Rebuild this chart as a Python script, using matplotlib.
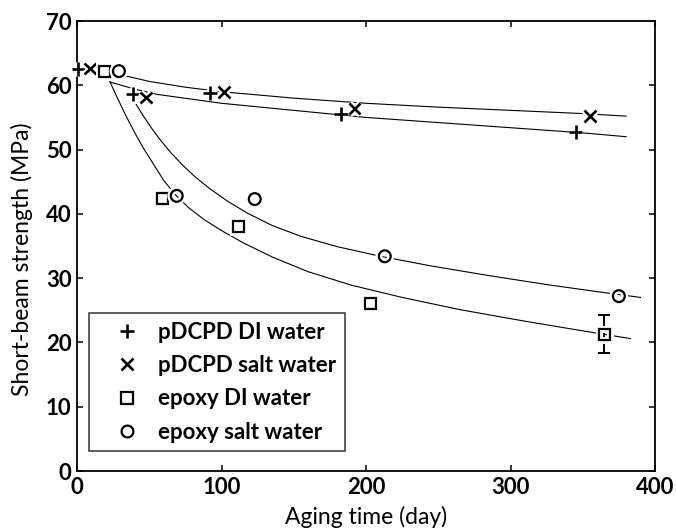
import matplotlib
matplotlib.use("Agg")
import matplotlib.pyplot as plt
import matplotlib.patheffects as pe

plt.rcParams['font.family'] = ['Lato', 'DejaVu Sans']
plt.rcParams['font.weight'] = 'bold'

# Measured short-beam strength (MPa) vs. aging time (day)
pdcpd_di_days = [1, 39, 92, 183, 345]
pdcpd_di_mpa = [62.6, 58.6, 58.8, 55.6, 52.8]

pdcpd_salt_days = [9, 48, 102, 192, 355]
pdcpd_salt_mpa = [62.6, 58.1, 59.0, 56.4, 55.2]

epoxy_di_days = [19, 59, 112, 203, 365]
epoxy_di_mpa = [62.2, 42.4, 38.1, 26.1, 21.3]
epoxy_di_err = [0, 0, 0, 0, 2.9]

epoxy_salt_days = [29, 69, 123, 213, 375]
epoxy_salt_mpa = [62.2, 42.8, 42.3, 33.4, 27.2]

# Fitted degradation curves
fit_pdcpd_di_days = [23, 40, 55, 100, 150, 200, 250, 300, 350, 380]
fit_pdcpd_di_mpa = [60.5, 59.4, 58.6, 57.2, 56.1, 55.0, 54.2, 53.4, 52.6, 52.0]

fit_pdcpd_salt_days = [33, 50, 75, 100, 150, 200, 250, 300, 350, 380]
fit_pdcpd_salt_mpa = [61.5, 60.6, 59.7, 59.0, 58.0, 57.2, 56.6, 56.1, 55.6, 55.2]

fit_epoxy_di_days = [22.7, 28, 34, 40, 46, 53, 60, 68, 77, 88, 100, 115, 135,
                     160, 190, 225, 265, 310, 350, 383]
fit_epoxy_di_mpa = [60.6, 58.0, 55.2, 52.6, 50.2, 47.7, 45.2, 43.0, 41.0, 39.1, 37.4,
                    35.5, 33.3, 31.0, 28.9, 27.0, 25.1, 23.3, 21.8, 20.6]

fit_epoxy_salt_days = [41, 46, 52, 58, 65, 73, 82, 92, 104, 118, 135, 155, 180,
                       210, 245, 285, 325, 360, 390]
fit_epoxy_salt_mpa = [57.0, 55.2, 53.2, 51.4, 49.5, 47.6, 45.7, 43.9, 42.0, 40.1, 38.2,
                      36.5, 34.9, 33.4, 31.9, 30.4, 29.0, 27.9, 27.0]

labels = ["pDCPD DI water", "pDCPD salt water", "epoxy DI water", "epoxy salt water"]

fig = plt.figure(figsize=(6.76, 5.30), dpi=100)
ax = fig.add_axes([77 / 676, 59 / 530, 578 / 676, 450 / 530])

for d, v in [(fit_pdcpd_di_days, fit_pdcpd_di_mpa),
             (fit_pdcpd_salt_days, fit_pdcpd_salt_mpa),
             (fit_epoxy_di_days, fit_epoxy_di_mpa),
             (fit_epoxy_salt_days, fit_epoxy_salt_mpa)]:
    ax.plot(d, v, color='black', lw=0.8, zorder=1)

halo = [pe.Stroke(linewidth=5, foreground='white'), pe.Normal()]
mk = dict(linestyle='none', color='black', markerfacecolor='none', zorder=3,
          path_effects=halo, clip_on=False)

h1, = ax.plot(pdcpd_di_days, pdcpd_di_mpa, marker='+', ms=10, mew=1.9, **mk)
h2, = ax.plot(pdcpd_salt_days, pdcpd_salt_mpa, marker='x', ms=8.5, mew=1.9, **mk)
h3, = ax.plot(epoxy_di_days, epoxy_di_mpa, marker='s', ms=8, mew=1.6, **mk)
h4, = ax.plot(epoxy_salt_days, epoxy_salt_mpa, marker='o', ms=8.5, mew=1.6, **mk)

# error bar on the last epoxy DI point
ax.errorbar(epoxy_di_days[-1:], epoxy_di_mpa[-1:], yerr=epoxy_di_err[-1:],
            fmt='none', ecolor='black', elinewidth=1.4, capsize=4, capthick=1.4, zorder=2)

ax.set_xlim(0, 400)
ax.set_ylim(0, 70)
ax.set_xticks([0, 100, 200, 300, 400])
ax.set_yticks(range(0, 71, 10))
ax.tick_params(direction='in', length=4, width=1.1, top=True, right=True,
               labelsize=16, pad=4)
for s in ax.spines.values():
    s.set_linewidth(1.3)

ax.set_xlabel("Aging time (day)", fontsize=16.5, va='top')
ax.xaxis.set_label_coords(0.5, (471 - 506) / 450)
ax.set_ylabel("Short-beam strength (MPa)", fontsize=16.5, va='bottom')
ax.yaxis.set_label_coords((33 - 77) / 578, 0.47)

leg = ax.legend([h1, h2, h3, h4], labels, loc='upper left',
                bbox_to_anchor=(89 / 676, (530 - 313) / 530), bbox_transform=fig.transFigure,
                fontsize=16, frameon=True, fancybox=False, edgecolor='black',
                handlelength=2.6, handletextpad=0.1, labelspacing=0.55,
                borderpad=0.4, borderaxespad=0)
leg.get_frame().set_linewidth(1.1)
for h in leg.legend_handles:
    h.set_path_effects([])

fig.savefig("out.png", dpi=100)
